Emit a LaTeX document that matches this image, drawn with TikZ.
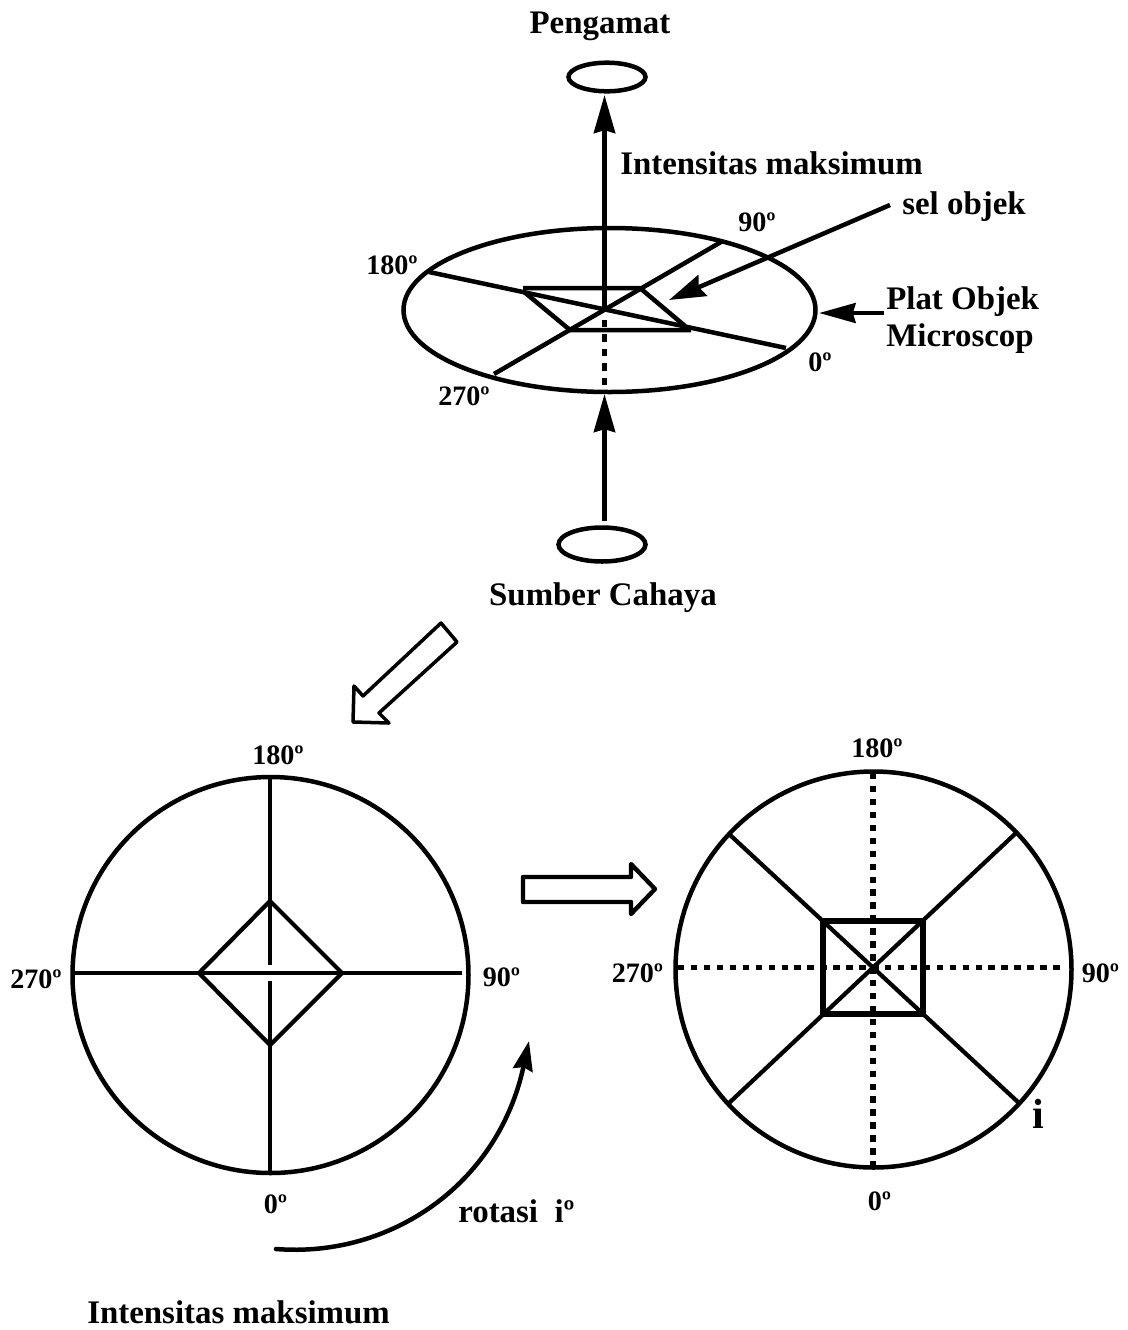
\documentclass[tikz,border=0pt]{standalone}
\usepackage{fontspec}
\setmainfont{Liberation Serif}
\usetikzlibrary{arrows.meta}

\begin{document}
\begin{tikzpicture}[x=0.025cm,y=-0.025cm,
  thickline/.style={line width=3.2pt},
  thinline/.style={line width=3pt},
  dotline/.style={line width=3.6pt,dash pattern=on 4.6pt off 4.6pt},
  bigarrow/.style={-{Stealth[length=27pt,width=15pt,inset=2pt]},line width=3.5pt},
  hollow/.style={line width=2.5pt,line join=round,fill=white},
  lbl/.style={font=\bfseries\fontsize{23.4}{26}\selectfont,inner sep=0pt,anchor=base},
  lblleft/.style={lbl,anchor=base west},
  deg/.style={font=\bfseries\fontsize{20}{24}\selectfont,inner sep=0pt,anchor=base}]
\useasboundingbox (0,0) rectangle (1127,1330);

% top part
\node[lbl] (pengamat) at (600,33) {Pengamat};
\draw[thickline] (607,77) ellipse (38.5 and 14.3);
\draw[thickline] (602,544.5) ellipse (43.5 and 17);
\draw[thickline] (609.5,310) ellipse (206 and 82);
\coordinate (eyetip) at (604.5,95);
\coordinate (cross) at (604.5,309);
\coordinate (crossb) at (604.5,320);
\coordinate (disktip) at (604.5,394);
\coordinate (srctop) at (604.5,521);
\coordinate (diskbot) at (604.5,387);
\draw[bigarrow] (cross) -- (eyetip);
\draw[bigarrow] (srctop) -- (disktip);
\draw[thickline,dash pattern=on 5.2pt off 5.1pt] (crossb) -- (diskbot);
\draw[thickline] (429,272) -- (786,348);
\draw[thickline] (494,374) -- (721,242);
\draw[thickline,line join=bevel] (523,288) -- (640,288) -- (685,326);
\draw[thickline,line join=bevel] (523,291) -- (570,330) -- (691,330);
\coordinate (seltail) at (890,205);
\coordinate (seltip) at (669,300);
\draw[-{Stealth[length=26pt,width=16pt,inset=3pt]},thickline] (seltail) -- (seltip);
\coordinate (plattail) at (884,313);
\coordinate (plattip) at (819,313);
\draw[-{Stealth[length=26pt,width=14pt,inset=2pt]},line width=3.2pt] (plattail) -- (plattip);
\node[lblleft] (intensa) at (620,174) {Intensitas maksimum};
\node[lblleft] (sel) at (902,214) {sel objek};
\node[deg] (a90) at (757,231) {90º};
\node[deg] (a180) at (392,274) {180º};
\node[deg] (a0) at (820,371) {0º};
\node[deg] (a270) at (464,405) {270º};
\node[lblleft] (plat) at (886,309) {Plat Objek};
\node[lblleft] (micro) at (886,346) {Microscop};
\node[lbl] (sumber) at (603,605) {Sumber Cahaya};

% hollow arrows
\draw[hollow] (441,623) -- (457,642) -- (379,713) -- (389,723) -- (353,722) -- (354,686) -- (363,696) -- cycle;
\draw[hollow,line width=3.1pt] (523,877) -- (631,877) -- (631,864) -- (655,889) -- (631,914) -- (631,902) -- (523,902) -- cycle;

% left circle
\draw[thickline] (270.5,975) circle (198);
\draw[thinline] (270,779) -- (270,965);
\draw[thinline] (270,981) -- (270,1172);
\draw[thinline] (74,973) -- (462,973);
\draw[thinline] (270,901) -- (342,973) -- (270,1045) -- (199,973) -- cycle;
\node[deg] (b180) at (278,764) {180º};
\node[deg] (b270) at (36,988) {270º};
\node[deg] (b90) at (501.5,986) {90º};
\node[deg] (b0) at (275.5,1213) {0º};

% right circle
\draw[thickline] (873.5,969.5) circle (198);
\draw[dotline] (873,773) -- (873,1168);
\draw[dotline] (678,967.5) -- (1065,967.5);
\draw[line width=3.7pt] (823,921) rectangle (923,1014);
\draw[thinline] (729,834) -- (1019,1103);
\draw[thinline] (1016,833) -- (729,1103);
\node[deg] (c180) at (877,757) {180º};
\node[deg] (c270) at (637.5,982) {270º};
\node[deg] (c90) at (1100.5,982) {90º};
\node[deg] (c0) at (879.5,1210) {0º};
\node[lbl,font=\bfseries\fontsize{30}{32}\selectfont] (ci) at (1038,1128) {i};

% rotation
\coordinate (rotstart) at (276,1249);
\coordinate (rottip) at (529,1041);
\draw[-{Stealth[length=21pt,width=14pt,inset=2pt]},line width=3.2pt,line cap=round] (rotstart) .. controls (390,1258) and (498,1185) .. (rottip);
\node[lblleft] (rot) at (458,1222) {rotasi\ \ iº};
\node[lblleft] (intensb) at (87,1323) {Intensitas maksimum};
\end{tikzpicture}
\end{document}
